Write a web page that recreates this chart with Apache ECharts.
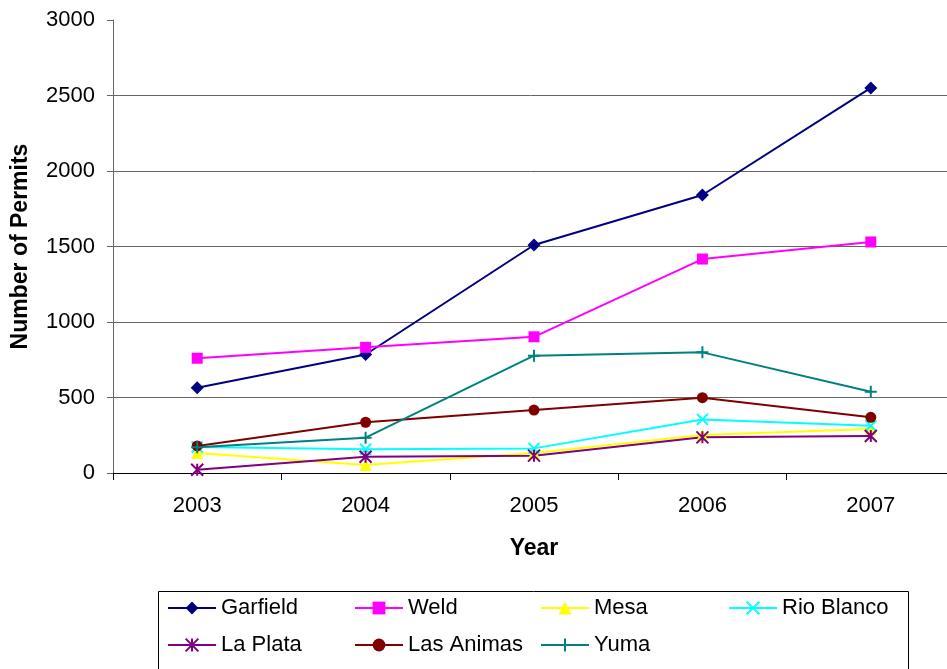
<!DOCTYPE html>
<html>
<head>
<meta charset="utf-8">
<script src="https://cdn.jsdelivr.net/npm/echarts@6/dist/echarts.min.js"></script>
<style>
  html, body { margin: 0; padding: 0; background: #fff; }
  #chart { width: 947px; height: 669px; }
</style>
</head>
<body>
<div id="chart"></div>
<script>
// Drilling permits per county, 2003-2007
const years = ['2003', '2004', '2005', '2006', '2007'];
const garfield   = [565, 785, 1510, 1841, 2550];
const weld       = [760, 832, 902, 1417, 1530];
const mesa       = [132, 53, 132, 252, 291];
const rioBlanco  = [172, 157, 163, 355, 313];
const laPlata    = [22, 108, 115, 236, 245];
const lasAnimas  = [179, 336, 417, 499, 369];
const yuma       = [170, 234, 777, 799, 538];
const yTicks = [0, 500, 1000, 1500, 2000, 2500, 3000];

const FONT = 'Liberation Sans, Arial, sans-serif';

const seriesDefs = [
  { name: 'Garfield',    data: garfield,  color: '#000080', symbol: 'diamond',  size: 13 },
  { name: 'Weld',        data: weld,      color: '#FF00FF', symbol: 'rect',     size: 11 },
  { name: 'Mesa',        data: mesa,      color: '#FFFF00', symbol: 'triangle', size: 12 },
  { name: 'Rio Blanco',  data: rioBlanco, color: '#00FFFF', symbol: 'path://M0,0L10,10M10,0L0,10', size: 11, stroke: true },
  { name: 'La Plata',    data: laPlata,   color: '#800080', symbol: 'path://M0,0L10,10M10,0L0,10M5,0L5,10', size: 12, stroke: true },
  { name: 'Las Animas',  data: lasAnimas, color: '#800000', symbol: 'circle',   size: 11 },
  { name: 'Yuma',        data: yuma,      color: '#008080', symbol: 'path://M5,0L5,10M0,5L10,5', size: 12, stroke: true }
];

// legend grid: 4 columns, 2 rows
const legendCols = [167, 354, 540, 728];
const legendRows = [597, 634];

const legends = seriesDefs.map((s, i) => ({
  data: [s.name],
  left: legendCols[i % 4],
  top: legendRows[Math.floor(i / 4)],
  padding: 0,
  itemWidth: 48,
  itemHeight: 16,
  itemGap: 6,
  textStyle: { fontFamily: FONT, fontSize: 22, color: '#000' }
}));

const chart = echarts.init(document.getElementById('chart'), null, { renderer: 'canvas' });

chart.setOption({
  backgroundColor: '#ffffff',
  animation: false,
  grid: { left: 113, top: 20, bottom: 196, right: -8, containLabel: false, outerBoundsMode: 'none' },
  legend: legends,
  xAxis: {
    type: 'category',
    data: years,
    boundaryGap: true,
    name: 'Year',
    nameLocation: 'middle',
    nameGap: 64,
    nameTextStyle: { fontFamily: FONT, fontSize: 23, fontWeight: 'bold', color: '#000' },
    axisLine: { show: true, lineStyle: { color: '#000', width: 1 } },
    axisTick: { show: true, length: 7, lineStyle: { color: '#000' } },
    axisLabel: { fontFamily: FONT, fontSize: 22, color: '#000', margin: 22 },
    splitLine: { show: false }
  },
  yAxis: {
    type: 'value',
    min: yTicks[0],
    max: yTicks[yTicks.length - 1],
    interval: 500,
    name: 'Number of Permits',
    nameLocation: 'middle',
    nameGap: 81,
    nameTextStyle: { fontFamily: FONT, fontSize: 23, fontWeight: 'bold', color: '#000' },
    axisLine: { show: true, lineStyle: { color: '#666', width: 1 } },
    axisTick: { show: true, length: 6, lineStyle: { color: '#666' } },
    axisLabel: { fontFamily: FONT, fontSize: 22, color: '#000', margin: 18, formatter: v => String(v) },
    splitLine: {
      show: true,
      lineStyle: {
        color: ['#000', '#666', '#666', '#666', '#666', '#666', 'rgba(0,0,0,0)'],
        width: 1
      }
    }
  },
  graphic: [{
    type: 'rect',
    shape: { x: 158.5, y: 591.5, width: 750, height: 90 },
    style: { fill: 'none', stroke: '#000', lineWidth: 1 },
    z: -1
  }],
  series: seriesDefs.map(s => ({
    name: s.name,
    type: 'line',
    data: s.data,
    symbol: s.symbol,
    symbolSize: s.size,
    showAllSymbol: true,
    lineStyle: { color: s.color, width: 2 },
    itemStyle: s.stroke
      ? { color: s.color, borderColor: s.color, borderWidth: 2 }
      : { color: s.color, borderWidth: 0 },
    emphasis: { disabled: true }
  }))
});
</script>
</body>
</html>
